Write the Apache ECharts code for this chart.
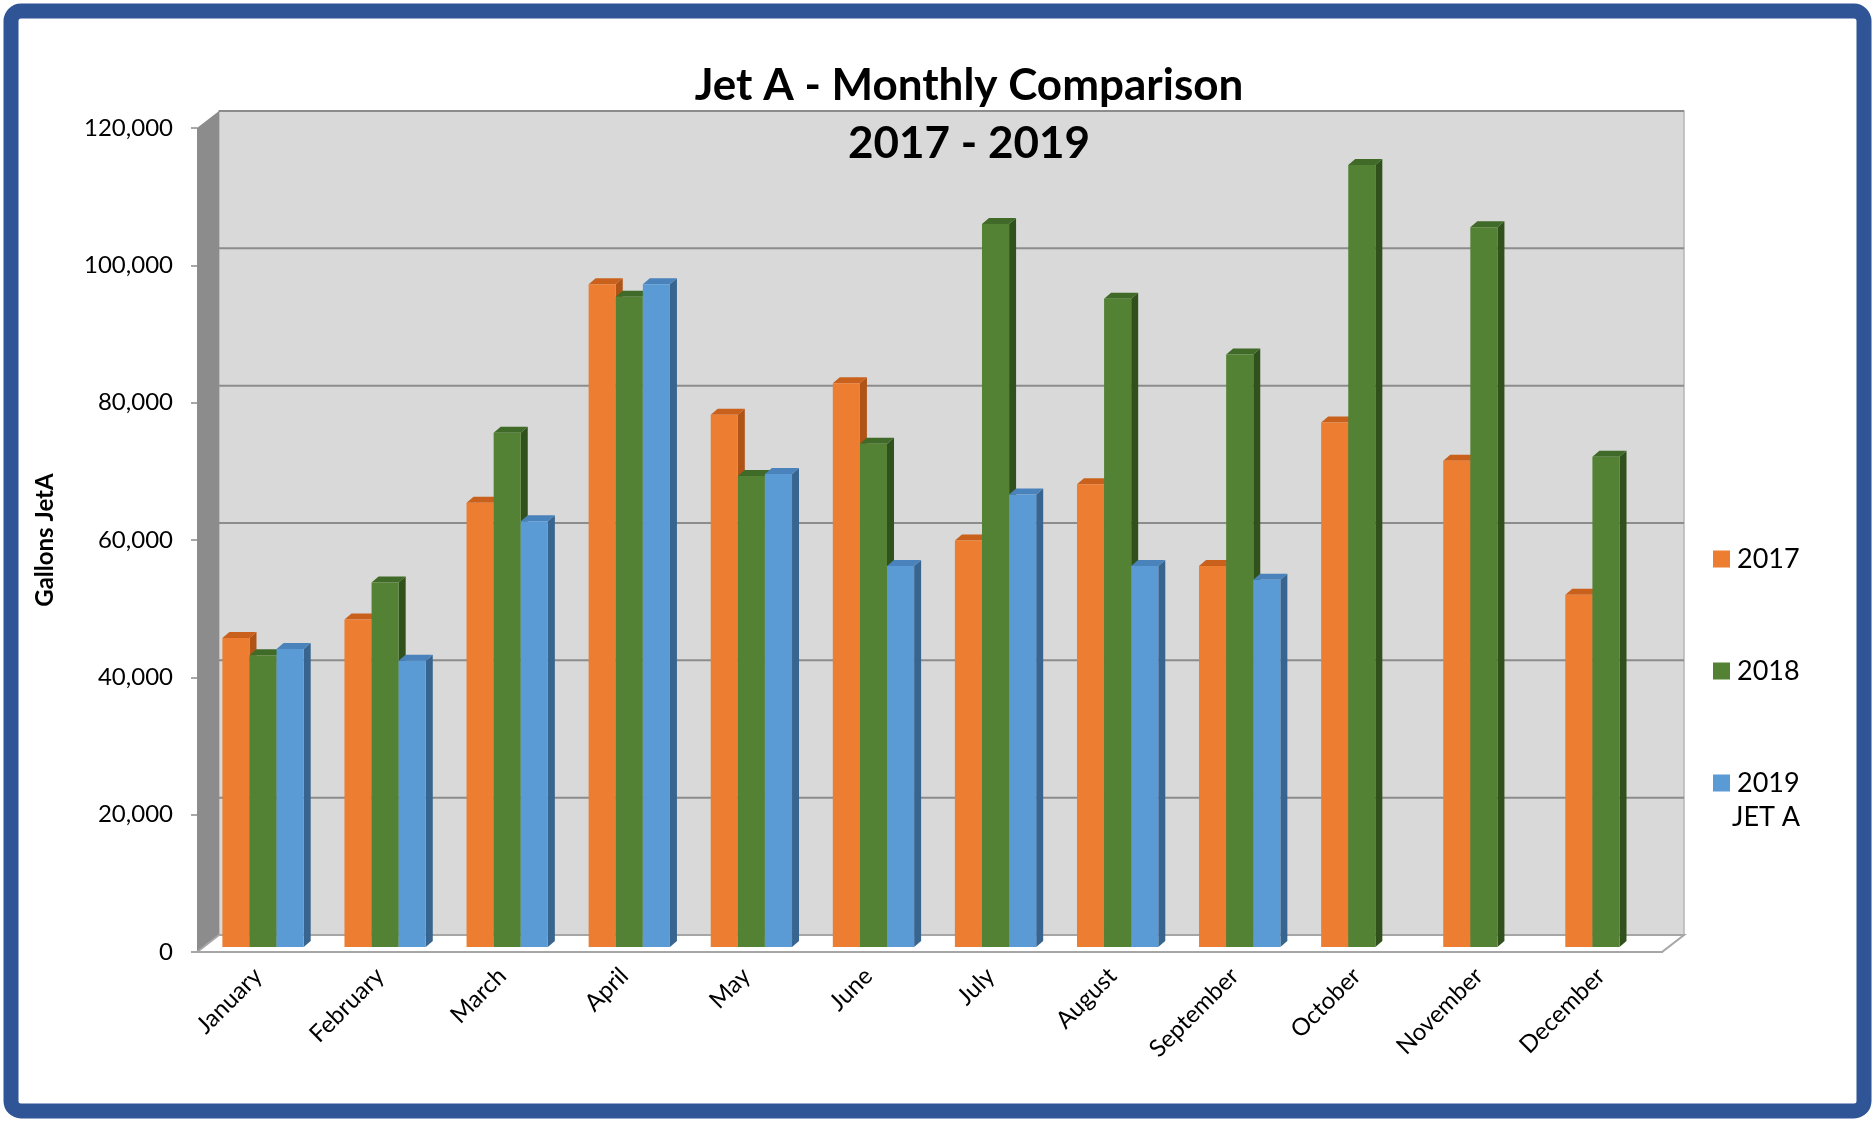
<!DOCTYPE html>
<html>
<head>
<meta charset="utf-8">
<title>Jet A - Monthly Comparison</title>
<script src="https://cdn.jsdelivr.net/npm/echarts@6/dist/echarts.min.js"></script>
<style>
  html, body { margin: 0; padding: 0; background: #fff; }
  #main { width: 1875px; height: 1122px; }
</style>
</head>
<body>
<div id="main"></div>
<script>
var months = ['January', 'February', 'March', 'April', 'May', 'June', 'July', 'August', 'September', 'October', 'November', 'December']
var years = ['2017', '2018', '2019']
var gal2017 = [45000, 47700, 64700, 96500, 77500, 82100, 59200, 67400, 55500, 76400, 70800, 51300]
var gal2018 = [42500, 53100, 74900, 94700, 68600, 73300, 105300, 94400, 86300, 113900, 104800, 71400]
var gal2019 = [43400, 41700, 62000, 96500, 68900, 55500, 65900, 55500, 53500, null, null, null]
var yTicks = [0, 20000, 40000, 60000, 80000, 100000, 120000]

var font = 'Lato'
// front / top / side colours for each year
var barColors = [
  ['#ed7d31', '#c9601c', '#b05316'],
  ['#548235', '#3f6a27', '#30511c'],
  ['#5b9bd5', '#4a82bb', '#38658f']
]
// fake 3d: depth of the walls and of the bars, in px
var WALL_D = [22, -17]
var BAR_SHIFT = [5, -5]
var BAR_D = [7, -6]
var BAR_RATIO = 0.222

function renderWalls (params, api) {
  var cs = params.coordSys
  var x0 = cs.x
  var x1 = cs.x + cs.width
  var yZero = api.coord([0, yTicks[0]])[1]
  var yTop = api.coord([0, yTicks[yTicks.length - 1]])[1]
  var dx = WALL_D[0]
  var dy = WALL_D[1]
  var children = []
  // back wall
  children.push({
    type: 'rect',
    shape: { x: x0 + dx, y: yTop + dy, width: x1 - x0, height: yZero - yTop },
    style: { fill: '#d9d9d9', stroke: '#b5b5b5', lineWidth: 1.5 }
  })
  // gridlines on the back wall
  yTicks.forEach(function (t) {
    var y = api.coord([0, t])[1] + dy
    children.push({
      type: 'line',
      shape: { x1: x0 + dx, y1: y, x2: x1 + dx, y2: y },
      style: { stroke: '#8c8c8c', lineWidth: 2 }
    })
  })
  // left side wall
  children.push({
    type: 'polygon',
    shape: { points: [[x0, yZero], [x0, yTop], [x0 + dx, yTop + dy], [x0 + dx, yZero + dy]] },
    style: { fill: '#8c8c8c' }
  })
  // floor
  children.push({
    type: 'polygon',
    shape: { points: [[x0, yZero], [x1, yZero], [x1 + dx, yZero + dy], [x0 + dx, yZero + dy]] },
    style: { fill: '#ffffff', stroke: '#a6a6a6', lineWidth: 2 }
  })
  return { type: 'group', children: children }
}

function makeBarRender (k) {
  var c = barColors[k]
  return function (params, api) {
    var idx = api.value(0)
    var val = api.value(1)
    var base = api.coord([idx, 0])
    var top = api.coord([idx, val])
    var w = api.size([1, 0])[0] * BAR_RATIO
    var l = base[0] - 1.5 * w + k * w + BAR_SHIFT[0]
    var r = l + w
    var yb = base[1] + BAR_SHIFT[1]
    var yt = top[1] + BAR_SHIFT[1]
    var dx = BAR_D[0]
    var dy = BAR_D[1]
    return {
      type: 'group',
      children: [
        {
          type: 'polygon',
          shape: { points: [[r, yt], [r + dx, yt + dy], [r + dx, yb + dy], [r, yb]] },
          style: { fill: c[2] }
        },
        {
          type: 'polygon',
          shape: { points: [[l, yt], [l + dx, yt + dy], [r + dx, yt + dy], [r, yt]] },
          style: { fill: c[1] }
        },
        {
          type: 'rect',
          shape: { x: l, y: yt, width: w, height: yb - yt },
          style: { fill: c[0] }
        }
      ]
    }
  }
}

function toData (arr) {
  var out = []
  arr.forEach(function (v, i) {
    if (v !== null) out.push([i, v])
  })
  return out
}

var chart = echarts.init(document.getElementById('main'))
var seriesData = [gal2017, gal2018, gal2019]

var series = [{
  type: 'custom',
  name: 'walls',
  silent: true,
  z: 1,
  renderItem: renderWalls,
  data: [[0, 0]],
  encode: { x: 0, y: 1 }
}]
years.forEach(function (y, k) {
  series.push({
    type: 'custom',
    name: y,
    z: 2,
    itemStyle: { color: barColors[k][0] },
    renderItem: makeBarRender(k),
    data: toData(seriesData[k]),
    encode: { x: 0, y: 1 }
  })
})

chart.setOption({
  animation: false,
  backgroundColor: '#ffffff',
  title: {
    text: 'Jet A - Monthly Comparison\n2017 - 2019',
    left: 964,
    top: 52,
    textAlign: 'center',
    textStyle: {
      fontFamily: font,
      fontSize: 44,
      fontWeight: 'bold',
      lineHeight: 58,
      color: '#000'
    }
  },
  legend: {
    data: years,
    orient: 'vertical',
    left: 1708,
    top: 539,
    itemWidth: 17,
    itemHeight: 17,
    itemGap: 82,
    icon: 'rect',
    textStyle: { fontFamily: font, fontSize: 27, lineHeight: 30, color: '#000', padding: [0, 0, 0, 2] }
  },
  grid: {
    left: 197,
    right: 213,
    top: 128,
    bottom: 170
  },
  xAxis: {
    type: 'category',
    data: months,
    axisLine: { lineStyle: { color: '#a6a6a6', width: 2 } },
    axisTick: { length: 8, lineStyle: { color: '#a6a6a6', width: 1.5 } },
    axisLabel: { rotate: 45, margin: 20, fontFamily: font, fontSize: 24, color: '#000' }
  },
  yAxis: {
    type: 'value',
    min: 0,
    max: 120000,
    interval: 20000,
    name: 'Gallons JetA',
    nameLocation: 'middle',
    nameRotate: 90,
    nameGap: 140,
    nameTextStyle: { fontFamily: font, fontSize: 24, fontWeight: 'bold', color: '#000' },
    axisLine: { show: true, lineStyle: { color: '#a6a6a6' } },
    axisTick: { show: true, length: 6, lineStyle: { color: '#8c8c8c', width: 1.5 } },
    splitLine: { show: false },
    axisLabel: {
      margin: 24,
      fontFamily: font,
      fontSize: 24,
      color: '#000',
      formatter: function (v) { return v.toLocaleString('en-US') }
    }
  },
  graphic: [
    {
      type: 'rect',
      z: 100,
      silent: true,
      shape: { x: 11, y: 11, width: 1853, height: 1100, r: 10 },
      style: { fill: 'none', stroke: '#2f5597', lineWidth: 15 }
    },
    {
      type: 'text',
      left: 1732,
      top: 804,
      style: { text: 'JET A', font: '27px Lato', fill: '#000' }
    }
  ],
  series: series
})
</script>
</body>
</html>
